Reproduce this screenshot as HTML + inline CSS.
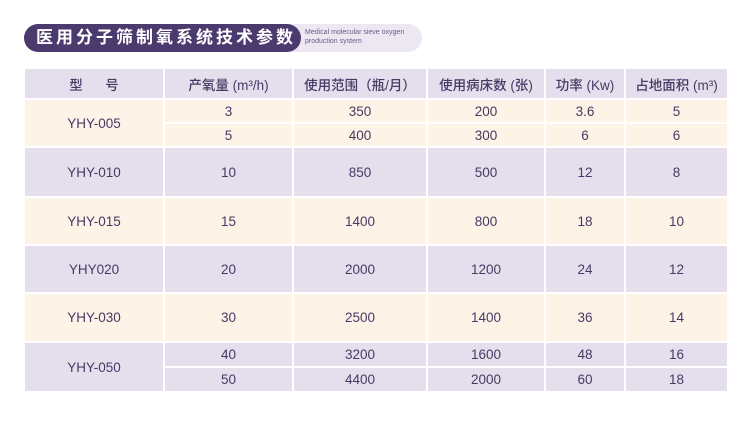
<!DOCTYPE html>
<html><head><meta charset="utf-8"><style>
body{margin:0;width:750px;height:425px;background:#fff;position:relative;overflow:hidden;font-family:"Liberation Sans","Noto Sans CJK SC",sans-serif;color:#463a64}
.c{position:absolute;display:flex;align-items:center;justify-content:center;font-size:13.5px;box-sizing:border-box}
.h{background:#e5deec;font-size:13.5px;color:#463a64;font-weight:500}
.y{background:#fdf3e7}
.p{background:#e5dfed}
</style></head><body>
<div style="position:absolute;left:24px;top:24px;width:398px;height:28px;border-radius:14px;background:#ece7f1"></div>
<div style="position:absolute;left:24px;top:24px;width:277px;height:28px;border-radius:14px;background:#4b3a6e;color:#fff;font-size:17px;font-weight:bold;letter-spacing:3px;line-height:27px;padding-left:12px;box-sizing:border-box">医用分子筛制氧系统技术参数</div>
<div style="position:absolute;left:305px;top:28px;font-size:7px;line-height:9px;color:#6a5e86">Medical molecular sieve oxygen<br>production system</div>
<div id="t"></div>
<script>
var xs=[24,164,293,427,545,625,728];
var t=document.getElementById('t'),h='';
function cell(x1,x2,y1,y2,cls,txt){h+='<div class="c '+cls+'" style="left:'+(x1+1)+'px;top:'+(y1+1)+'px;width:'+(x2-x1-2)+'px;height:'+(y2-y1-2)+'px">'+txt+'</div>';}
var hd=['型&nbsp;&nbsp;&nbsp;&nbsp;&nbsp;&nbsp;号','产氧量 (m³/h)','使用范围（瓶/月）','使用病床数 (张)','功率 (Kw)','占地面积 (m³)'];
for(var i=0;i<6;i++)cell(xs[i],xs[i+1],68,99,'h',hd[i]);
var rows=[['YHY-005',[[3,350,200,3.6,5],[5,400,300,6,6]],99,147,'y'],
['YHY-010',[[10,850,500,12,8]],147,197,'p'],
['YHY-015',[[15,1400,800,18,10]],197,245,'y'],
['YHY020',[[20,2000,1200,24,12]],245,293,'p'],
['YHY-030',[[30,2500,1400,36,14]],293,342,'y'],
['YHY-050',[[40,3200,1600,48,16],[50,4400,2000,60,18]],342,392,'p']];
rows.forEach(function(r){
 cell(xs[0],xs[1],r[2],r[3],r[4],r[0]);
 var n=r[1].length,hh=(r[3]-r[2])/n;
 r[1].forEach(function(d,k){
  for(var i=0;i<5;i++)cell(xs[i+1],xs[i+2],Math.round(r[2]+k*hh),Math.round(r[2]+(k+1)*hh),r[4],d[i]);
 });
});
t.innerHTML=h;
</script>
</body></html>
